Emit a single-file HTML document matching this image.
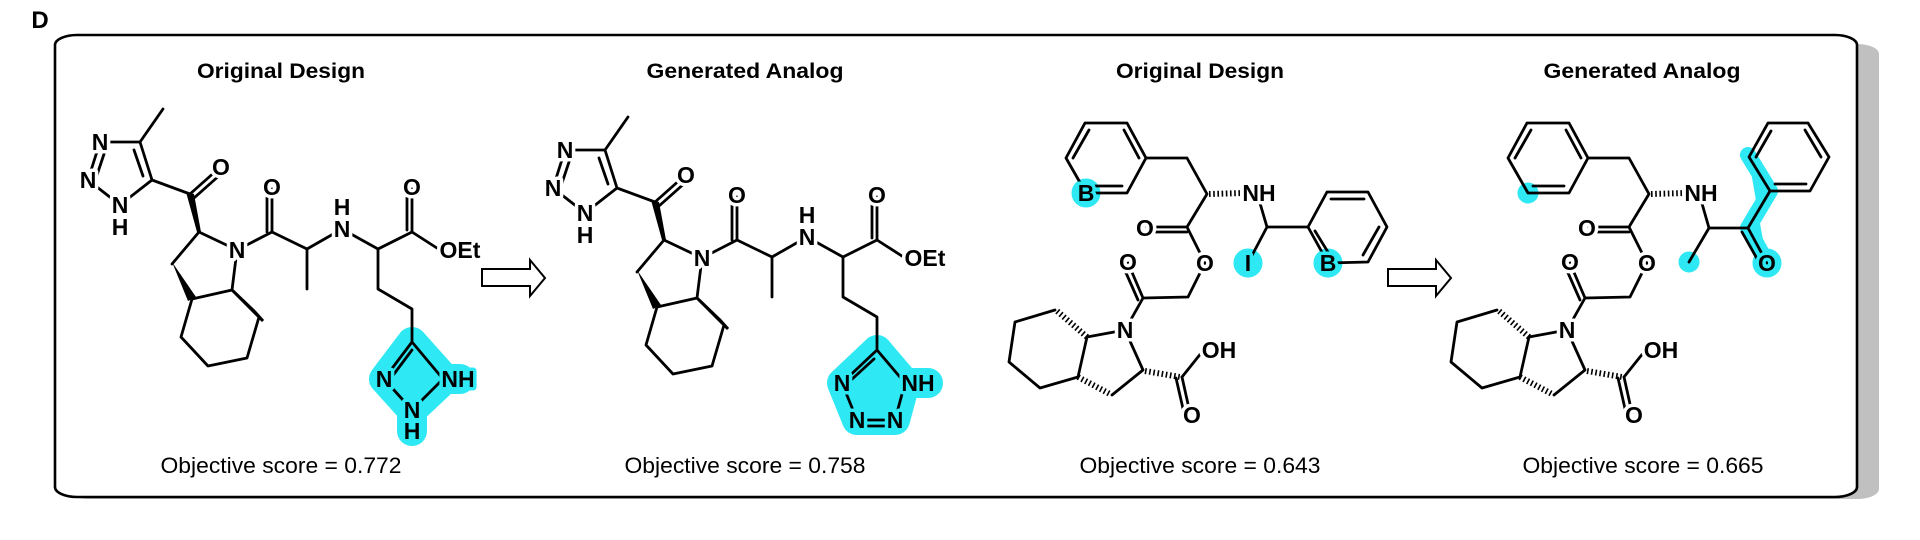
<!DOCTYPE html>
<html><head><meta charset="utf-8"><style>
html,body{margin:0;padding:0;background:#fff;width:1920px;height:540px;overflow:hidden}
svg{display:block}
.b{stroke:#000;stroke-width:2.8;fill:none;stroke-linecap:round;stroke-linejoin:round}
.a{font-family:"Liberation Sans",Arial,sans-serif;font-weight:bold;font-size:23px;fill:#000;text-anchor:middle;dominant-baseline:central;paint-order:stroke;stroke:#fff;stroke-width:7px;stroke-linejoin:round}
.c{stroke:#2ee8f4}
.t{font-family:"Liberation Sans",Arial,sans-serif;font-weight:bold;font-size:21px;text-anchor:middle}
.s{font-family:"Liberation Sans",Arial,sans-serif;font-size:22px;text-anchor:middle}
.h{stroke:#000;stroke-width:6;stroke-dasharray:1.6 2.6;fill:none}
.cy{fill:#2ee8f4;stroke:#2ee8f4;stroke-linejoin:round;stroke-linecap:round}
</style></head><body>
<svg width="1920" height="540" viewBox="0 0 1920 540" xmlns="http://www.w3.org/2000/svg">
<text x="40" y="28" style="font-family:'Liberation Sans',Arial,sans-serif;font-weight:bold;font-size:24px" text-anchor="middle">D</text>
<rect x="67" y="44" width="1812" height="455" rx="22" ry="10" fill="#c0c0c0"/>
<rect x="55" y="35" width="1802" height="462" rx="22" ry="10" fill="#fff" stroke="#000" stroke-width="2.6"/>

<text class="t" x="281" y="78" textLength="168" lengthAdjust="spacingAndGlyphs">Original Design</text>
<text class="t" x="745" y="78" textLength="197" lengthAdjust="spacingAndGlyphs">Generated Analog</text>
<text class="t" x="1200" y="78" textLength="168" lengthAdjust="spacingAndGlyphs">Original Design</text>
<text class="t" x="1642" y="78" textLength="197" lengthAdjust="spacingAndGlyphs">Generated Analog</text>

<text class="s" x="281" y="473" textLength="241" lengthAdjust="spacingAndGlyphs">Objective score = 0.772</text>
<text class="s" x="745" y="473" textLength="241" lengthAdjust="spacingAndGlyphs">Objective score = 0.758</text>
<text class="s" x="1200" y="473" textLength="241" lengthAdjust="spacingAndGlyphs">Objective score = 0.643</text>
<text class="s" x="1643" y="473" textLength="241" lengthAdjust="spacingAndGlyphs">Objective score = 0.665</text>

<polygon points="482,269 530,269 530,260 545,278 530,296 530,286 482,286" fill="#fff" stroke="#000" stroke-width="2"/>
<polygon points="1388,269 1436,269 1436,260 1451,278 1436,296 1436,286 1388,286" fill="#fff" stroke="#000" stroke-width="2"/>

<g>
<polygon class="cy" stroke-width="30" points="877,350 842,383 857,420 895,420 905,383 928,383 905,383"/>
<g class="b">
<line x1="605" y1="150" x2="628" y2="117"/>
<line x1="565" y1="150" x2="605" y2="150"/>
<line x1="605" y1="150" x2="617" y2="188"/><line x1="599" y1="158" x2="608" y2="184"/>
<line x1="617" y1="188" x2="585" y2="213"/>
<line x1="585" y1="213" x2="553" y2="188"/>
<line x1="565" y1="150" x2="553" y2="188"/><line x1="571" y1="156" x2="561" y2="186"/>
<line x1="617" y1="188" x2="655" y2="202"/>
<line x1="655" y1="202" x2="682" y2="178"/><line x1="659" y1="206" x2="686" y2="182"/>
<line x1="664" y1="240" x2="702" y2="258"/>
<line x1="664" y1="240" x2="637" y2="272"/>
<line x1="657" y1="307" x2="697" y2="298"/>
<line x1="697" y1="298" x2="702" y2="258"/>
<polyline points="657,307 646,345 673,374 712,366 724,325"/>
<line x1="702" y1="258" x2="737" y2="240"/>
<line x1="737" y1="240" x2="737" y2="197"/><line x1="732" y1="240" x2="732" y2="197"/>
<polyline points="737,240 772,257 807,237 843,257 877,240 905,258"/>
<line x1="772" y1="257" x2="772" y2="297"/>
<line x1="877" y1="240" x2="877" y2="197"/><line x1="872" y1="238" x2="872" y2="197"/>
<polyline points="843,257 843,297 877,317 877,350"/>
<line x1="877" y1="350" x2="842" y2="383"/><line x1="874" y1="359" x2="850" y2="381"/>
<line x1="877" y1="350" x2="905" y2="383"/>
<line x1="842" y1="383" x2="857" y2="420"/>
<line x1="857" y1="420" x2="895" y2="420"/><line x1="860" y1="426" x2="892" y2="426"/>
<line x1="895" y1="420" x2="905" y2="383"/>
</g>
<polygon points="651,200 659,202 666,240 662,240"/>
<polygon points="697,298 720,320 728,329" stroke="#000" stroke-width="3"/>
<polygon points="637,270 653,309 661,305"/>
<text class="a" x="565" y="150">N</text>
<text class="a" x="553" y="188">N</text>
<text class="a" x="585" y="213">N</text>
<text class="a" x="585" y="235">H</text>
<text class="a" x="686" y="175">O</text>
<text class="a" x="702" y="258">N</text>
<text class="a" x="737" y="195">O</text>
<text class="a" x="807" y="237">N</text>
<text class="a" x="807" y="215">H</text>
<text class="a" x="877" y="195">O</text>
<text class="a" x="925" y="258">OEt</text>
<text class="a c" x="842" y="383">N</text>
<text class="a c" x="918" y="383">NH</text>
<text class="a c" x="857" y="420">N</text>
<text class="a c" x="895" y="420">N</text>
</g>

<g transform="translate(-465,-8)">
<polygon class="cy" stroke-width="30" points="877,350 849,387 877,418 877,439 877,418 910,387 925,387 910,387"/>
<g class="b">
<line x1="605" y1="150" x2="628" y2="117"/>
<line x1="565" y1="150" x2="605" y2="150"/>
<line x1="605" y1="150" x2="617" y2="188"/><line x1="599" y1="158" x2="608" y2="184"/>
<line x1="617" y1="188" x2="585" y2="213"/>
<line x1="585" y1="213" x2="553" y2="188"/>
<line x1="565" y1="150" x2="553" y2="188"/><line x1="571" y1="156" x2="561" y2="186"/>
<line x1="617" y1="188" x2="655" y2="202"/>
<line x1="655" y1="202" x2="682" y2="178"/><line x1="659" y1="206" x2="686" y2="182"/>
<line x1="664" y1="240" x2="702" y2="258"/>
<line x1="664" y1="240" x2="637" y2="272"/>
<line x1="657" y1="307" x2="697" y2="298"/>
<line x1="697" y1="298" x2="702" y2="258"/>
<polyline points="657,307 646,345 673,374 712,366 724,325"/>
<line x1="702" y1="258" x2="737" y2="240"/>
<line x1="737" y1="240" x2="737" y2="197"/><line x1="732" y1="240" x2="732" y2="197"/>
<polyline points="737,240 772,257 807,237 843,257 877,240 905,258"/>
<line x1="772" y1="257" x2="772" y2="297"/>
<line x1="877" y1="240" x2="877" y2="197"/><line x1="872" y1="238" x2="872" y2="197"/>
<polyline points="843,257 843,297 877,317 877,350"/>
<line x1="877" y1="350" x2="849" y2="387"/><line x1="877" y1="358" x2="856" y2="386"/>
<line x1="877" y1="350" x2="908" y2="387"/>
<line x1="849" y1="387" x2="877" y2="418"/>
<line x1="877" y1="418" x2="908" y2="387"/>
</g>
<polygon points="651,200 659,202 666,240 662,240"/>
<polygon points="697,298 720,320 728,329" stroke="#000" stroke-width="3"/>
<polygon points="637,270 653,309 661,305"/>
<text class="a" x="565" y="150">N</text>
<text class="a" x="553" y="188">N</text>
<text class="a" x="585" y="213">N</text>
<text class="a" x="585" y="235">H</text>
<text class="a" x="686" y="175">O</text>
<text class="a" x="702" y="258">N</text>
<text class="a" x="737" y="195">O</text>
<text class="a" x="807" y="237">N</text>
<text class="a" x="807" y="215">H</text>
<text class="a" x="877" y="195">O</text>
<text class="a" x="925" y="258">OEt</text>
<text class="a c" x="849" y="387">N</text>
<text class="a c" x="923" y="387">NH</text>
<text class="a c" x="877" y="418">N</text>
<text class="a c" x="877" y="439">H</text>
</g>

<circle class="cy" cx="1086" cy="193" r="14"/>
<circle class="cy" cx="1248" cy="263" r="14"/>
<circle class="cy" cx="1328" cy="263" r="14"/>
<g class="b">
<polygon points="1085,123 1127,123 1146,158 1127,193 1086,193 1066,158"/>
<line x1="1073" y1="158" x2="1089" y2="130"/>
<line x1="1124" y1="130" x2="1139" y2="158"/>
<line x1="1091" y1="186" x2="1122" y2="186"/>
<polyline points="1146,158 1187,158 1207,194 1187,227 1205,263 1188,297 1143,298 1125,330 1087,337"/>
<line x1="1187" y1="227" x2="1147" y2="227"/><line x1="1187" y1="232" x2="1149" y2="232"/>
<line x1="1143" y1="298" x2="1128" y2="263"/><line x1="1138" y1="300" x2="1123" y2="266"/>
<polyline points="1055,310 1015,322 1009,362 1040,388 1078,377 1087,337"/>
<polyline points="1112,395 1143,370 1125,330"/>
<line x1="1182" y1="377" x2="1202" y2="352"/>
<line x1="1182" y1="377" x2="1190" y2="413"/><line x1="1176" y1="378" x2="1184" y2="413"/>
<polyline points="1257,193 1267,227 1248,263"/>
<line x1="1267" y1="227" x2="1308" y2="227"/>
<polygon points="1308,227 1327,192 1368,192 1387,227 1368,262 1328,263"/>
<line x1="1331" y1="199" x2="1364" y2="199"/>
<line x1="1379" y1="227" x2="1363" y2="255"/>
<line x1="1315" y1="231" x2="1331" y2="257"/>
</g>
<line class="h" x1="1209" y1="194" x2="1245" y2="193"/>
<line class="h" x1="1087" y1="337" x2="1057" y2="311"/>
<line class="h" x1="1078" y1="377" x2="1110" y2="394"/>
<line class="h" x1="1145" y1="371" x2="1180" y2="377"/>
<text class="a c" x="1086" y="193">B</text>
<text class="a" x="1259" y="193">NH</text>
<text class="a" x="1145" y="228">O</text>
<text class="a" x="1205" y="263">O</text>
<text class="a" x="1128" y="262">O</text>
<text class="a" x="1125" y="330">N</text>
<text class="a" x="1219" y="350">OH</text>
<text class="a" x="1192" y="415">O</text>
<text class="a c" x="1248" y="263">I</text>
<text class="a c" x="1328" y="263">B</text>

<circle class="cy" cx="1528" cy="193" r="10"/>
<circle class="cy" cx="1689" cy="262" r="10"/>
<polyline class="cy" fill="none" stroke-width="16" points="1748,155 1770,191 1748,228 1767,263"/>
<circle class="cy" cx="1767" cy="263" r="14"/>
<g class="b">
<polygon points="1527,123 1569,123 1588,158 1569,193 1528,193 1508,158"/>
<line x1="1515" y1="158" x2="1531" y2="130"/>
<line x1="1566" y1="130" x2="1581" y2="158"/>
<line x1="1533" y1="186" x2="1564" y2="186"/>
<polyline points="1588,158 1629,158 1649,194 1629,227 1647,263 1630,297 1585,298 1567,330 1529,337"/>
<line x1="1629" y1="227" x2="1589" y2="227"/><line x1="1629" y1="232" x2="1591" y2="232"/>
<line x1="1585" y1="298" x2="1570" y2="263"/><line x1="1580" y1="300" x2="1565" y2="266"/>
<polyline points="1497,310 1457,322 1451,362 1482,388 1520,377 1529,337"/>
<polyline points="1554,395 1585,370 1567,330"/>
<line x1="1624" y1="377" x2="1644" y2="352"/>
<line x1="1624" y1="377" x2="1632" y2="413"/><line x1="1618" y1="378" x2="1626" y2="413"/>
<polyline points="1699,193 1709,228 1689,262"/>
<line x1="1709" y1="228" x2="1748" y2="228"/>
<line x1="1748" y1="228" x2="1770" y2="191"/>
<line x1="1748" y1="228" x2="1767" y2="263"/><line x1="1742" y1="232" x2="1760" y2="264"/>
<polygon points="1768,123 1808,123 1829,157 1810,191 1770,191 1749,157"/>
<line x1="1756" y1="157" x2="1771" y2="131"/>
<line x1="1805" y1="130" x2="1821" y2="157"/>
<line x1="1775" y1="184" x2="1806" y2="184"/>
</g>
<line class="h" x1="1651" y1="194" x2="1687" y2="193"/>
<line class="h" x1="1529" y1="337" x2="1499" y2="311"/>
<line class="h" x1="1520" y1="377" x2="1552" y2="394"/>
<line class="h" x1="1587" y1="371" x2="1622" y2="377"/>
<text class="a" x="1701" y="193">NH</text>
<text class="a" x="1587" y="228">O</text>
<text class="a" x="1647" y="263">O</text>
<text class="a" x="1570" y="262">O</text>
<text class="a" x="1567" y="330">N</text>
<text class="a" x="1661" y="350">OH</text>
<text class="a" x="1634" y="415">O</text>
<text class="a c" x="1767" y="263">O</text>
</svg>
</body></html>
